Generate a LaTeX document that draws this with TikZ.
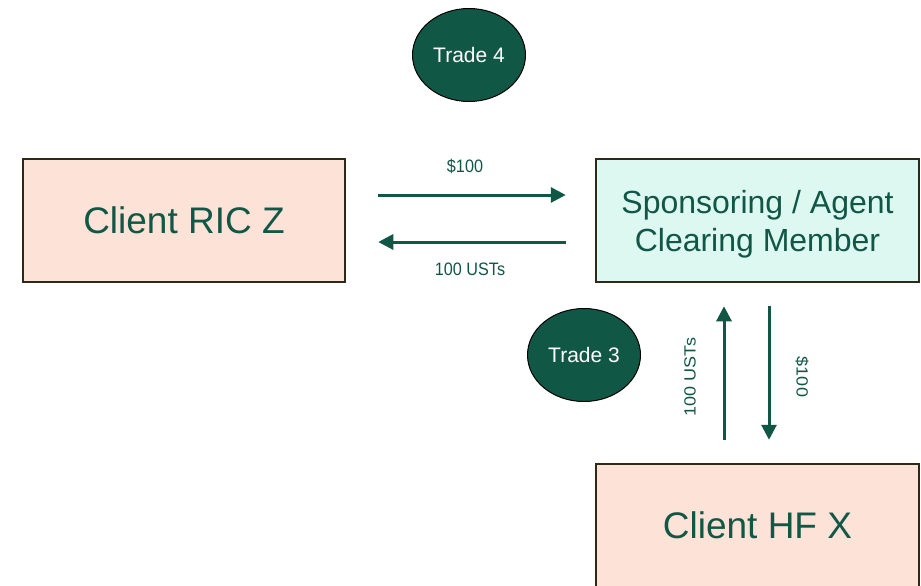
\documentclass[tikz,border=0pt]{standalone}
\usepackage{fontspec}
\setmainfont{Liberation Sans}
\usetikzlibrary{shapes.geometric,arrows.meta}
\definecolor{deepgreen}{HTML}{115746}
\definecolor{salmonfill}{HTML}{FDE2D8}
\definecolor{mintfill}{HTML}{DDF7F1}
\definecolor{boxedge}{HTML}{2E2A1A}
\tikzset{
  party/.style={rectangle, draw=boxedge, line width=2.5pt, minimum width=322pt,
    minimum height=123pt, inner sep=0pt, text=deepgreen, align=center},
  tradebubble/.style={ellipse, draw=black, line width=1pt, fill=deepgreen,
    minimum width=113pt, minimum height=93pt, inner sep=0pt, text=white,
    font=\fontsize{21}{25}\selectfont},
  flow/.style={draw=deepgreen, line width=3pt,
    -{Triangle[length=15pt,width=15pt]}},
  flowlabel/.style={text=deepgreen, inner sep=0pt,
    font=\fontsize{18}{21}\selectfont, xscale=0.9}
}
\begin{document}
\begin{tikzpicture}[x=1pt,y=-1pt]
\useasboundingbox[fill=white] (0,0) rectangle (921,586);

% parties
\node[party, fill=salmonfill, font=\fontsize{37}{44}\selectfont] (ric) at (184,220.5) {Client RIC Z};
\node[party, fill=mintfill, minimum width=323pt] (spon) at (757.5,220.5) {};
\node[text=deepgreen, align=center, inner sep=0pt, font=\fontsize{32}{38}\selectfont]
  (spontext) at ([yshift=-4pt]spon.center) {Sponsoring / Agent\\Clearing Member};
\node[party, fill=salmonfill, minimum width=323pt, font=\fontsize{37}{44}\selectfont] (hf) at (757.5,525.5) {Client HF X};

% trades
\node[tradebubble] (t4) at (469,55) {Trade 4};
\node[tradebubble] (t3) at (584,355) {Trade 3};

% Trade 4 flows
\draw[flow] ([xshift=32pt,yshift=25.5pt]ric.east) -- ([xshift=-29pt,yshift=25.5pt]spon.west);
\draw[flow] ([xshift=-29pt,yshift=-21.5pt]spon.west) -- ([xshift=32pt,yshift=-21.5pt]ric.east);
\node[flowlabel] (cashA) at (465,166) {\$100};
\node[flowlabel] (ustA) at (470,269) {100 USTs};

% Trade 3 flows
\draw[flow] ([xshift=-33.5pt,yshift=23pt]hf.north) -- ([xshift=-33.5pt,yshift=-23pt]spon.south);
\draw[flow] ([xshift=11.5pt,yshift=-23pt]spon.south) -- ([xshift=11.5pt,yshift=23pt]hf.north);
\node[flowlabel, rotate=90] (ustB) at (690,377) {100 USTs};
\node[flowlabel, rotate=-90] (cashB) at (802,377) {\$100};
\end{tikzpicture}
\end{document}
